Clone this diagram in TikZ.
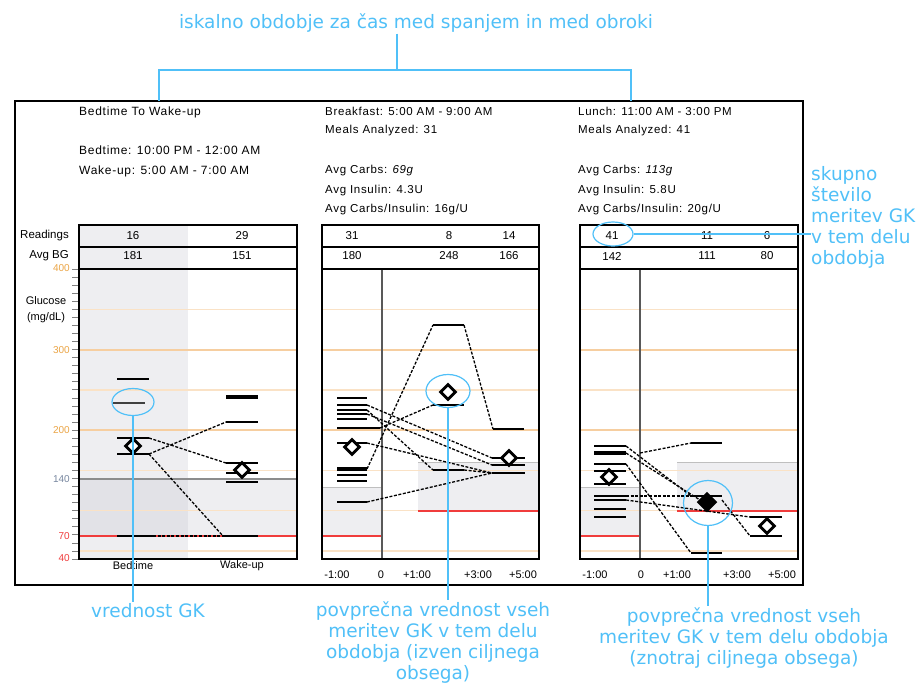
\documentclass[tikz,border=0pt]{standalone}
\usepackage{fontspec}
\usetikzlibrary{shapes.geometric}
\newfontfamily\cf[LetterSpace=6]{Liberation Sans}
\newfontfamily\cfn{Liberation Sans}
\newfontfamily\af{DejaVu Sans}
\definecolor{annblue}{RGB}{80,192,248}
\definecolor{orl}{RGB}{250,226,198}
\definecolor{ors}{RGB}{246,206,160}
\definecolor{cshade}{RGB}{238,238,241}
\definecolor{cshaded}{RGB}{226,226,231}
\definecolor{axor}{RGB}{235,165,70}
\definecolor{axred}{RGB}{240,60,60}
\definecolor{axgray}{RGB}{120,135,160}
\begin{document}
\begin{tikzpicture}[x=1pt,y=-1pt,
  frame/.style={draw=black,line width=1.8},
  tbl/.style={draw=black,line width=1.3},
  hdr/.style={anchor=west,inner sep=0,font=\cf\fontsize{11.5}{13}\selectfont},
  cell/.style={inner sep=0,font=\cfn\fontsize{11.5}{13}\selectfont},
  lab/.style={inner sep=0,font=\cfn\fontsize{11}{13}\selectfont},
  axl/.style={anchor=east,inner sep=0,font=\cfn\fontsize{10}{12}\selectfont},
  bar/.style={line width=2.6,black},
  tbar/.style={line width=1.8,black},
  hbar/.style={line width=3.6,black},
  dl/.style={line width=1.3,black,dash pattern=on 3pt off 1.6pt},
  mk/.style={diamond,draw=black,fill=white,line width=2.8,minimum width=16,minimum height=16,inner sep=0},
  mkf/.style={diamond,draw=black,fill=black,line width=1.5,minimum width=19,minimum height=19,inner sep=0},
  lo/.style={orl,line width=1.4},
  so/.style={ors,line width=1.8},
  redl/.style={axred,line width=1.5},
  grl/.style={black!45,line width=1.2},
  vl/.style={black!65,line width=1.4},
  ann/.style={annblue,line width=1.6},
  annell/.style={ellipse,draw=annblue,line width=1.2,inner sep=0},
  annt/.style={annblue,inner sep=1,font=\af\fontsize{18.5}{21}\selectfont},
]
\useasboundingbox (0,0) rectangle (924,686);
\fill[white] (0,0) rectangle (924,686);

% ================= LEFT PANEL =================
\fill[cshade] (79,225) rectangle (188,559);
\fill[cshade] (188,479) rectangle (297,536);
\fill[cshaded] (79,479) rectangle (188,536);
\foreach \yy in {309.3,389.8,470.4,510.7,551}{\draw[lo] (79,\yy)--(297,\yy);}
\foreach \yy in {349.6,430.1}{\draw[so] (79,\yy)--(297,\yy);}
\draw[grl] (79,479)--(297,479);
\draw[redl] (79,536)--(297,536);
\foreach \v in {40,50,...,400}{\draw[black!50,line width=0.8] (72,{269+(400-\v)*0.8056})--(79,{269+(400-\v)*0.8056});}
\draw[tbl] (79,269) rectangle (297,559);
\draw[tbl] (79,225) rectangle (297,269);
\draw[tbl] (79,247)--(297,247);

\node[axl,text=axor] (t400) at (70,268) {400};
\node[axl,text=axor] (t300) at (70,349.6) {300};
\node[axl,text=axor] (t200) at (70,430.1) {200};
\node[axl,text=axgray] (t140) at (70,479) {140};
\node[axl,text=axred] (t70) at (70,536) {70};
\node[axl,text=axred] (t40) at (70,558) {40};
\node[lab] (gl1) at (46,301) {Glucose};
\node[lab] (gl2) at (46,318) {(mg/dL)};
\node[lab,anchor=east,font=\cfn\fontsize{11.5}{13}\selectfont] (rd) at (69,236) {Readings};
\node[lab,anchor=east,font=\cfn\fontsize{11.5}{13}\selectfont] (ab) at (69,256) {Avg BG};

\node[hdr,font=\cf\fontsize{12}{13}\selectfont] (h1a) at (79,112) {Bedtime To Wake-up};
\node[hdr,font=\cf\fontsize{12}{13}\selectfont] (h1b) at (79,150) {Bedtime: 10:00 PM - 12:00 AM};
\node[hdr,font=\cf\fontsize{12}{13}\selectfont] (h1c) at (79,171) {Wake-up: 5:00 AM - 7:00 AM};
\node[cell] (c1a) at (133,236) {16};
\node[cell] (c1b) at (242,236) {29};
\node[cell] (c1c) at (133,256) {181};
\node[cell] (c1d) at (242,256) {151};

% data
\draw[bar] (117,379)--(149,379);
\draw[bar,black!75] (113,403)--(145,403);
\draw[bar] (117,438)--(149,438);
\draw[bar] (117,454)--(149,454);
\draw[bar] (117,536)--(153,536);
\draw[hbar] (226,397)--(258,397);
\draw[tbar] (226,422)--(258,422);
\draw[bar] (226,463)--(258,463);
\draw[bar] (226,473)--(258,473);
\draw[bar] (226,482)--(258,482);
\draw[bar] (223,536)--(258,536);
\draw[dl] (149,438)--(226,463);
\draw[dl] (149,454)--(226,422);
\draw[dl] (149,454)--(223,536);
\draw[dl] (153,536)--(223,536);
\node[mk] (d1) at (133,446) {};
\node[mk] (d2) at (242,470) {};
\node[lab] (xb) at (133,566) {Bedtime};
\node[lab] (xw) at (242,566) {Wake-up};

% ================= MIDDLE PANEL =================
\fill[cshade] (322,487) rectangle (382,536);
\fill[cshade] (418,462) rectangle (539,511);
\foreach \yy in {309.3,389.8,470.4,510.7,551}{\draw[lo] (322,\yy)--(539,\yy);}
\foreach \yy in {349.6,430.1}{\draw[so] (322,\yy)--(539,\yy);}
\draw[black!25,line width=1] (322,487)--(382,487);
\draw[black!25,line width=1] (418,462)--(539,462);
\draw[redl] (322,536)--(382,536);
\draw[redl] (418,511)--(539,511);
\draw[vl] (382,269)--(382,559);
\draw[tbl] (322,269) rectangle (539,559);
\draw[tbl] (322,225) rectangle (539,269);
\draw[tbl] (322,247)--(539,247);

\node[hdr] (h2a) at (325,111) {Breakfast: 5:00 AM - 9:00 AM};
\node[hdr] (h2b) at (325,131) {Meals Analyzed: 31};
\node[hdr] (h2c) at (325,171) {Avg Carbs: \textit{69g}};
\node[hdr] (h2d) at (325,191) {Avg Insulin: 4.3U};
\node[hdr] (h2e) at (325,210) {Avg Carbs/Insulin: 16g/U};
\node[cell] (c2a) at (352,236) {31};
\node[cell] (c2b) at (449,236) {8};
\node[cell] (c2c) at (509,236) {14};
\node[cell] (c2d) at (352,256) {180};
\node[cell] (c2e) at (449,256) {248};
\node[cell] (c2f) at (509,256) {166};

\draw[tbar] (337,398)--(367,398);
\draw[bar] (337,405)--(367,405);
\draw[bar] (337,410)--(367,410);
\draw[bar] (337,414)--(367,414);
\draw[bar] (337,419)--(367,419);
\draw[bar] (337,428)--(380,428);
\draw[tbar] (337,443)--(367,443);
\draw[hbar] (337,469)--(367,469);
\draw[bar] (337,475)--(367,475);
\draw[bar] (337,481)--(367,481);
\draw[tbar] (337,502)--(367,502);
\draw[bar] (433,325)--(464,325);
\draw[bar] (433,405)--(464,405);
\draw[bar] (433,470)--(464,470);
\draw[bar] (493,429)--(524,429);
\draw[tbar] (492,458)--(525,458);
\draw[bar] (492,465)--(525,465);
\draw[bar] (492,473)--(525,473);
\draw[dl] (367,469)--(433,325);
\draw[dl] (464,325)--(493,429);
\draw[dl] (380,428)--(433,405);
\draw[dl] (367,405)--(492,458);
\draw[dl] (367,410)--(433,470);
\draw[dl] (367,414)--(492,465);
\draw[dl] (367,443)--(492,473);
\draw[dl] (367,502)--(492,473);
\draw[dl] (464,470)--(492,473);
\node[mk] (d3) at (352,447) {};
\node[mk] (d4) at (448,392) {};
\node[mk] (d5) at (509,458) {};
\node[lab] (x21) at (337,575) {-1:00};
\node[lab] (x22) at (381,575) {0};
\node[lab] (x23) at (417,575) {+1:00};
\node[lab] (x24) at (478,575) {+3:00};
\node[lab] (x25) at (523,575) {+5:00};

% ================= RIGHT PANEL =================
\fill[cshade] (580,487) rectangle (640,536);
\fill[cshade] (677,462) rectangle (798,511);
\foreach \yy in {309.3,389.8,470.4,510.7,551}{\draw[lo] (580,\yy)--(798,\yy);}
\foreach \yy in {349.6,430.1}{\draw[so] (580,\yy)--(798,\yy);}
\draw[black!25,line width=1] (580,487)--(640,487);
\draw[black!25,line width=1] (677,462)--(798,462);
\draw[redl] (580,536)--(640,536);
\draw[redl] (677,511)--(798,511);
\draw[vl] (640,269)--(640,559);
\draw[tbl] (580,269) rectangle (798,559);
\draw[tbl] (580,225) rectangle (798,269);
\draw[tbl] (580,247)--(798,247);

\node[hdr] (h3a) at (578,111) {Lunch: 11:00 AM - 3:00 PM};
\node[hdr] (h3b) at (578,131) {Meals Analyzed: 41};
\node[hdr] (h3c) at (578,171) {Avg Carbs: \textit{113g}};
\node[hdr] (h3d) at (578,191) {Avg Insulin: 5.8U};
\node[hdr] (h3e) at (578,210) {Avg Carbs/Insulin: 20g/U};
\node[cell] (c3a) at (612,236) {41};
\node[cell] (c3b) at (707,236) {11};
\node[cell] (c3c) at (767,236) {6};
\node[cell] (c3d) at (612,256) {142};
\node[cell] (c3e) at (707,256) {111};
\node[cell] (c3f) at (767,256) {80};

\draw[bar] (594,446)--(626,446);
\draw[hbar] (594,453)--(626,453);
\draw[tbar] (594,464)--(626,464);
\draw[tbar] (594,471)--(626,471);
\draw[tbar] (594,484)--(626,484);
\draw[bar] (594,496)--(626,496);
\draw[bar] (594,500)--(626,500);
\draw[tbar] (594,509)--(626,509);
\draw[tbar] (594,517)--(626,517);
\draw[tbar] (691,443)--(722,443);
\draw[bar] (691,496)--(722,496);
\draw[bar] (691,553)--(722,553);
\draw[tbar] (750,517)--(782,517);
\draw[tbar] (750,536)--(782,536);
\draw[dl] (640,453)--(691,443);
\draw[dl] (626,446)--(691,496);
\draw[dl] (626,453)--(700,500);
\draw[dl] (626,464)--(691,553);
\draw[dl] (626,496)--(691,496);
\draw[dl] (626,500)--(750,517);
\draw[dl] (722,500)--(750,536);
\node[mk] (d6) at (609,477) {};
\node[mkf] (d7) at (707,502) {};
\node[mk] (d8) at (767,526) {};
\node[lab] (x31) at (595,575) {-1:00};
\node[lab] (x32) at (641,575) {0};
\node[lab] (x33) at (677,575) {+1:00};
\node[lab] (x34) at (737,575) {+3:00};
\node[lab] (x35) at (782,575) {+5:00};

% outer frame
\draw[frame] (15,101) rectangle (803,585);

% ================= ANNOTATIONS =================
\node[annt] (top) at (416,23) {iskalno obdobje za čas med spanjem in med obroki};
\coordinate (brk) at (397,70);
\coordinate (bl) at (159,101);
\coordinate (br) at (631,101);
\draw[ann] (top.south -| brk) -- (brk);
\draw[ann] (bl) -- (bl |- brk) -- (br |- brk) -- (br);

\node[annell,minimum width=40,minimum height=24] (e41) at (613,234) {};
\node[annt,anchor=north west,align=left,inner sep=0] (sk) at (811,166) {skupno\\število\\meritev GK\\v tem delu\\obdobja};
\draw[ann] (e41.east) -- (e41.east -| sk.west);

\node[annell,minimum width=42,minimum height=27] (eb) at (133,402) {};
\node[annt,anchor=north] (vk) at (148,602) {vrednost GK};
\draw[ann] (eb.south) -- (eb.south |- vk.north);

\node[annell,minimum width=44,minimum height=33] (em) at (448,391) {};
\node[annt,anchor=north,align=center] (pm) at (433,600) {povprečna vrednost vseh\\meritev GK v tem delu\\obdobja (izven ciljnega\\obsega)};
\draw[ann] (em.south) -- (em.south |- pm.north);

\node[annell,minimum width=49,minimum height=45] (er) at (708,503) {};
\node[annt,anchor=north,align=center] (pr) at (744,606) {povprečna vrednost vseh\\meritev GK v tem delu obdobja\\(znotraj ciljnega obsega)};
\draw[ann] (er.south) -- (er.south |- pr.north);
\end{tikzpicture}
\end{document}
